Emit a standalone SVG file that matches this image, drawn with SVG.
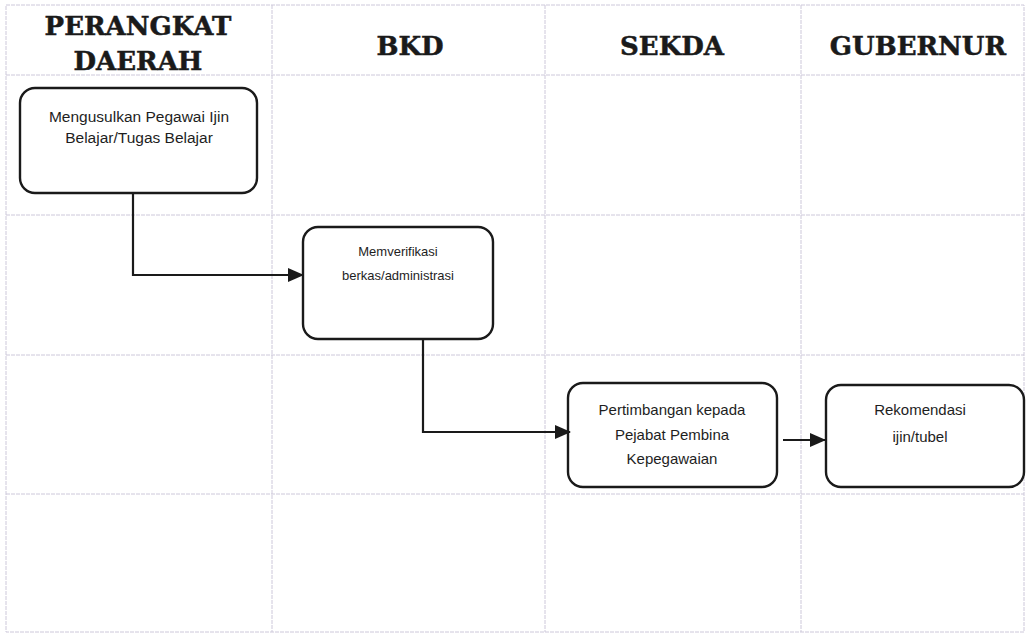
<svg xmlns="http://www.w3.org/2000/svg" width="1026" height="635" viewBox="0 0 1026 635">
<defs>
<style>
.grid{stroke:#cdc8da;stroke-width:1;fill:none;stroke-dasharray:4 1}
.hdr{font-family:"DejaVu Serif","Liberation Serif",serif;font-weight:bold;font-size:26px;fill:#1a1a1a;stroke:#1a1a1a;stroke-width:0.5;text-anchor:middle}
.box{fill:#fff;stroke:#1a1a1a;stroke-width:2.4}
.lbl{font-family:"Liberation Sans",Arial,sans-serif;fill:#1e1e1e;text-anchor:middle}
.conn{stroke:#1a1a1a;stroke-width:2.2;fill:none}
</style>
<marker id="arrL" markerWidth="16" markerHeight="14" refX="15" refY="7" orient="auto" markerUnits="userSpaceOnUse" viewBox="0 0 16 14">
<path d="M0,0 L16,7 L0,14 z" fill="#1a1a1a"/>
</marker>
</defs>
<rect width="1026" height="635" fill="#fff"/>
<g id="grid">
<rect class="grid" x="6" y="5" width="1018" height="627"/>
<line class="grid" x1="6" y1="75" x2="1024" y2="75"/>
<line class="grid" x1="6" y1="215" x2="1024" y2="215"/>
<line class="grid" x1="6" y1="355" x2="1024" y2="355"/>
<line class="grid" x1="6" y1="494" x2="1024" y2="494"/>
<line class="grid" x1="272" y1="5" x2="272" y2="632"/>
<line class="grid" x1="545" y1="5" x2="545" y2="632"/>
<line class="grid" x1="801" y1="5" x2="801" y2="632"/>
</g>
<g id="headers">
<text class="hdr" x="138" y="35">PERANGKAT</text>
<text class="hdr" x="138" y="70">DAERAH</text>
<text class="hdr" x="410" y="55">BKD</text>
<text class="hdr" x="672" y="55">SEKDA</text>
<text class="hdr" x="918" y="55">GUBERNUR</text>
</g>
<g id="node1">
<rect class="box" x="20" y="88" width="237" height="105" rx="15"/>
<text class="lbl" x="139" y="122" font-size="15.5">Mengusulkan Pegawai Ijin</text>
<text class="lbl" x="139" y="143" font-size="15.5">Belajar/Tugas Belajar</text>
</g>
<g id="node2">
<rect class="box" x="303" y="227" width="190" height="112" rx="15"/>
<text class="lbl" x="398" y="256" font-size="13">Memverifikasi</text>
<text class="lbl" x="398" y="280" font-size="13">berkas/administrasi</text>
</g>
<g id="node3">
<rect class="box" x="568" y="383" width="209" height="104" rx="15"/>
<text class="lbl" x="672" y="415" font-size="15">Pertimbangan kepada</text>
<text class="lbl" x="672" y="440" font-size="15">Pejabat Pembina</text>
<text class="lbl" x="672" y="464" font-size="15">Kepegawaian</text>
</g>
<g id="node4">
<rect class="box" x="826" y="385" width="198" height="102" rx="15"/>
<text class="lbl" x="920" y="415" font-size="15">Rekomendasi</text>
<text class="lbl" x="920" y="442" font-size="15">ijin/tubel</text>
</g>
<g id="connectors">
<path class="conn" d="M133,194 L133,275 L303,275" marker-end="url(#arrL)"/>
<path class="conn" d="M423,340 L423,432 L570,432" marker-end="url(#arrL)"/>
<path class="conn" d="M783,440 L825,440" marker-end="url(#arrL)"/>
</g>
</svg>
